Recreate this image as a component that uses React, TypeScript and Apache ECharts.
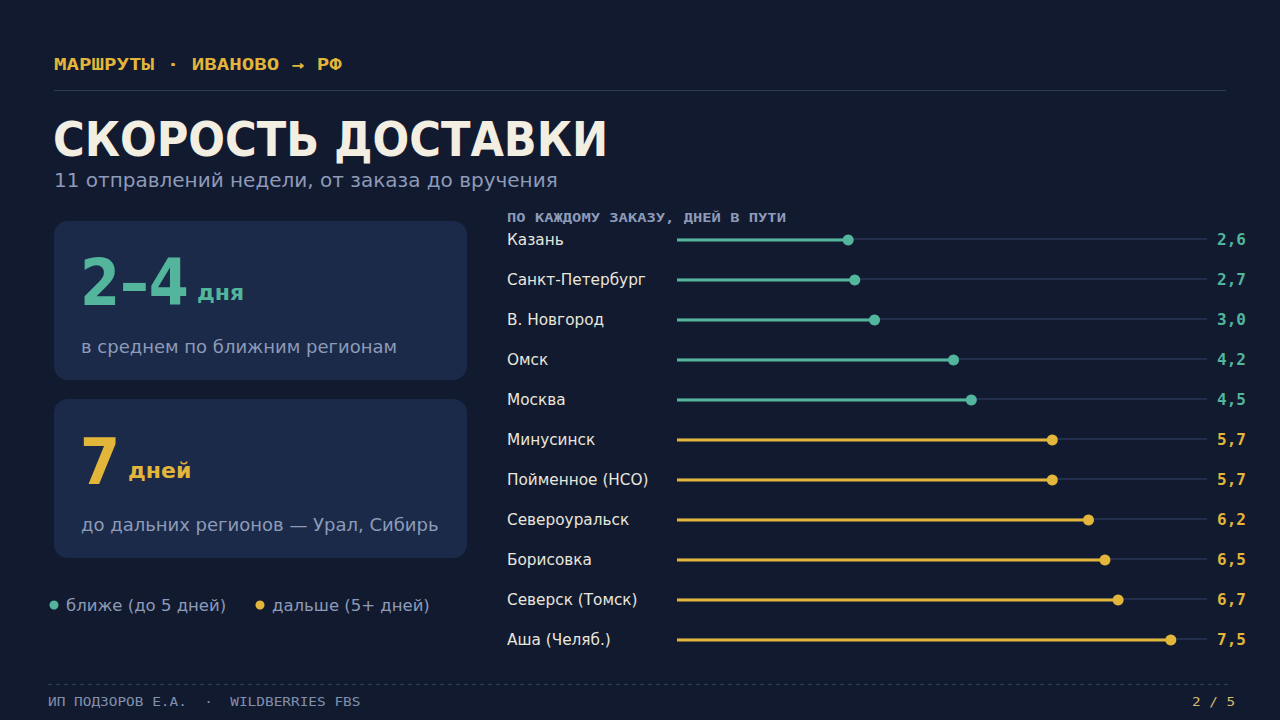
import { useEffect, useRef } from "react";
import * as echarts from "echarts";

const cities = [
  "Казань",
  "Санкт-Петербург",
  "В. Новгород",
  "Омск",
  "Москва",
  "Минусинск",
  "Пойменное (НСО)",
  "Североуральск",
  "Борисовка",
  "Северск (Томск)",
  "Аша (Челяб.)",
];
const days = [2.6, 2.7, 3.0, 4.2, 4.47, 5.7, 5.7, 6.25, 6.5, 6.7, 7.5];
const dayLabels = ["2,6", "2,7", "3,0", "4,2", "4,5", "5,7", "5,7", "6,2", "6,5", "6,7", "7,5"];
const threshold = 5;
const axisMax = 8.05;

const BG = "#121a30";
const CARD = "#1b2a48";
const TEAL = "#52b59c";
const GOLD = "#e2b53b";
const CREAM = "#f2eee2";
const MUTED = "#8d9bb8";
const LINE = "#2e3c5c";
const TRACK = "#34436a";
const SANS = "'DejaVu Sans', sans-serif";
const COND = "'DejaVu Sans Condensed', 'DejaVu Sans', sans-serif";
const MONO = "'DejaVu Sans Mono', monospace";

const colorOf = (d: number) => (d >= threshold ? GOLD : TEAL);

export default function App() {
  const ref = useRef<HTMLDivElement>(null);
  useEffect(() => {
    document.body.style.margin = "0";
    const chart = echarts.init(ref.current!, null, { renderer: "svg" });
    const txt = (
      text: string,
      x: number,
      y: number,
      font: string,
      fill: string,
      extra: any = {}
    ) => ({
      type: "text",
      x,
      y,
      silent: true,
      ...extra,
      style: {
        text,
        font,
        fill,
        textAlign: extra.align || "left",
        textVerticalAlign: "middle",
      },
    });
    chart.setOption({
      animation: false,
      backgroundColor: BG,
      grid: { left: 677, top: 220, width: 530, height: 440 },
      xAxis: {
        type: "value",
        min: 0,
        max: axisMax,
        show: false,
      },
      yAxis: {
        type: "category",
        inverse: true,
        data: cities,
        axisLine: { show: false },
        axisTick: { show: false },
        splitLine: { show: false },
        axisLabel: {
          margin: 170,
          align: "left",
          color: "#e9e6dc",
          fontSize: 15.3,
          fontFamily: SANS,
        },
      },
      series: [
        {
          type: "bar",
          silent: true,
          barWidth: 1,
          z: 1,
          itemStyle: { color: TRACK },
          data: days.map((d) => ({
            value: axisMax,
            label: { color: colorOf(d) },
          })),
          label: {
            show: true,
            position: "right",
            distance: 10,
            fontFamily: MONO,
            fontWeight: "bold",
            fontSize: 16,
            formatter: (p: any) => dayLabels[p.dataIndex],
          },
        },
        {
          type: "bar",
          silent: true,
          barWidth: 3,
          barGap: "-100%",
          z: 2,
          data: days.map((d) => ({
            value: d,
            itemStyle: { color: colorOf(d) },
          })),
        },
        {
          type: "scatter",
          silent: true,
          symbolSize: 11,
          z: 3,
          itemStyle: { opacity: 1 },
          data: days.map((d, i) => ({
            value: [d, i],
            itemStyle: { color: colorOf(d), opacity: 1 },
          })),
        },
      ],
      graphic: [
        txt("МАРШРУТЫ · ИВАНОВО → РФ", 54, 64, `bold 16px ${MONO}`, GOLD, {
          scaleX: 1.3,
        }),
        {
          type: "line",
          silent: true,
          shape: { x1: 54, y1: 90.5, x2: 1226, y2: 90.5 },
          style: { stroke: LINE, lineWidth: 1 },
        },
        txt("СКОРОСТЬ ДОСТАВКИ", 53, 139, `bold 48px ${COND}`, CREAM),
        txt(
          "11 отправлений недели, от заказа до вручения",
          54,
          180,
          `20px ${SANS}`,
          MUTED
        ),
        {
          type: "rect",
          silent: true,
          shape: { x: 54, y: 221, width: 413, height: 159, r: 14 },
          style: { fill: CARD },
        },
        {
          type: "rect",
          silent: true,
          shape: { x: 54, y: 399, width: 413, height: 159, r: 14 },
          style: { fill: CARD },
        },
        txt("2–4", 80, 283, `bold 64px ${COND}`, TEAL),
        txt("дня", 197, 292, `bold 22px ${SANS}`, TEAL),
        txt("в среднем по ближним регионам", 81, 346, `18px ${SANS}`, MUTED),
        txt("7", 80, 462, `bold 64px ${COND}`, GOLD),
        txt("дней", 128, 470, `bold 22px ${SANS}`, GOLD),
        txt(
          "до дальних регионов — Урал, Сибирь",
          81,
          524,
          `18px ${SANS}`,
          MUTED
        ),
        {
          type: "circle",
          silent: true,
          shape: { cx: 54, cy: 605, r: 4.5 },
          style: { fill: TEAL },
        },
        txt("ближе (до 5 дней)", 66, 605, `16.5px ${SANS}`, MUTED),
        {
          type: "circle",
          silent: true,
          shape: { cx: 260, cy: 605, r: 4.5 },
          style: { fill: GOLD },
        },
        txt("дальше (5+ дней)", 272, 605, `16.5px ${SANS}`, MUTED),
        txt(
          "ПО КАЖДОМУ ЗАКАЗУ, ДНЕЙ В ПУТИ",
          507,
          217,
          `bold 13px ${MONO}`,
          MUTED,
          { scaleX: 1.19 }
        ),
        {
          type: "line",
          silent: true,
          shape: { x1: 48, y1: 684.5, x2: 1228, y2: 684.5 },
          style: { stroke: LINE, lineWidth: 1, lineDash: [4, 4] },
        },
        txt(
          "ИП ПОДЗОРОВ Е.А.  ·  WILDBERRIES FBS",
          48,
          701,
          `13px ${MONO}`,
          "#8290ab",
          { scaleX: 1.11 }
        ),
        txt("2 / 5", 1235, 701, `13px ${MONO}`, "#d4bb6a", {
          align: "right",
          scaleX: 1.1,
        }),
      ],
    });
    return () => chart.dispose();
  }, []);
  return (
    <div
      ref={ref}
      style={{ position: "fixed", left: 0, top: 0, width: 1280, height: 720 }}
    />
  );
}
